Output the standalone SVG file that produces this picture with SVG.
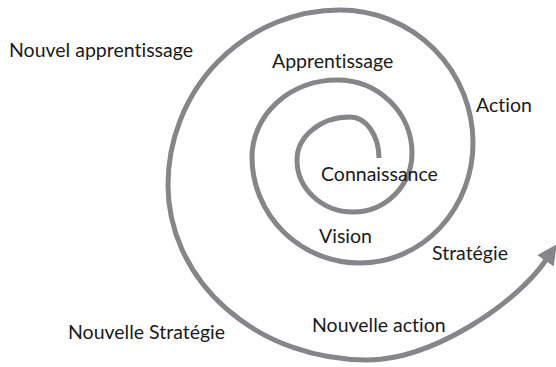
<svg xmlns="http://www.w3.org/2000/svg" width="556" height="367" viewBox="0 0 556 367">
<style>
.sp{fill:none;stroke:#86868a;stroke-width:5;stroke-linecap:butt}
.t{font-family:Lato,"Noto Sans",sans-serif;font-size:19.5px;fill:#1a1a1a;font-variant-ligatures:none;font-feature-settings:"liga" 0}
</style>
<defs>
<marker id="ah" viewBox="0 0 20 20" refX="1" refY="10" markerWidth="20" markerHeight="20" orient="auto" markerUnits="userSpaceOnUse">
<path d="M0,0 L20,10 L0,20 Z" fill="#86868a"/>
</marker>
</defs>
<rect width="556" height="367" fill="#ffffff"/>
<g id="connectors">
<path class="sp" marker-end="url(#ah)" d="M379,158 A29,41 0 0 0 350,117 A53,43 0 0 0 297,160 A56,52 0 0 0 353,212 A59,59 0 0 0 412,153 A75,73 0 0 0 337,80 A85,77 0 0 0 252,157 A108,106 0 0 0 360,263 A113,120 0 0 0 473,143 A133,133 0 0 0 340,10 A172,175 0 0 0 168,185 A199,175 0 0 0 367,360 C432,360 516,304 546,260"/>
</g>
<g id="n-nouvel-apprentissage"><text class="t" x="9" y="57">Nouvel apprentissage</text></g>
<g id="n-apprentissage"><text class="t" x="272" y="68">Apprentissage</text></g>
<g id="n-action"><text class="t" x="476" y="112">Action</text></g>
<g id="n-connaissance"><text class="t" x="321" y="181">Connaissance</text></g>
<g id="n-vision"><text class="t" x="319" y="243">Vision</text></g>
<g id="n-strategie"><text class="t" x="432" y="260">Stratégie</text></g>
<g id="n-nouvelle-action"><text class="t" x="312" y="332">Nouvelle action</text></g>
<g id="n-nouvelle-strategie"><text class="t" x="68" y="339">Nouvelle Stratégie</text></g>
</svg>
